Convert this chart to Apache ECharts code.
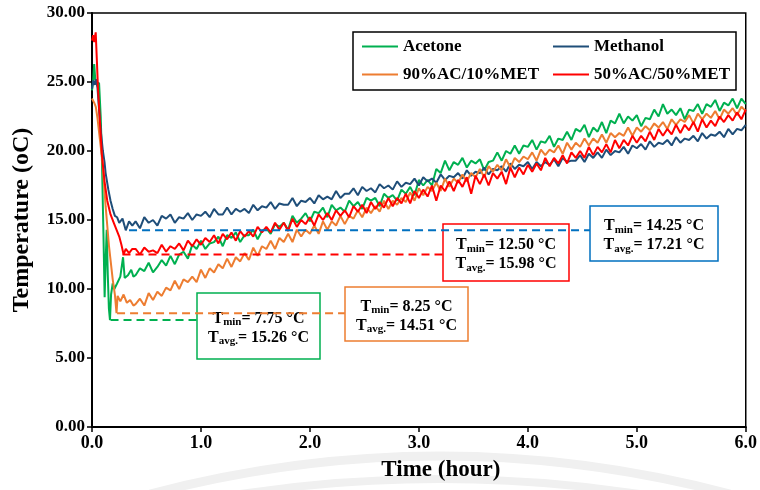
<!DOCTYPE html>
<html>
<head>
<meta charset="utf-8">
<script src="https://cdn.jsdelivr.net/npm/echarts@6/dist/echarts.min.js"></script>
<style>
  html, body { margin: 0; padding: 0; background: #fff; }
  #chart { width: 760px; height: 490px; }
</style>
</head>
<body>
<div id="chart"></div>
<script>
// ---- Series names ----
const seriesNames = ['Acetone', 'Methanol', '90%AC/10%MET', '50%AC/50%MET'];

// ---- Start-up transient, logged as [time (h), temperature (°C)] ----
const acetoneStart = [[0,24.4],[0.01,25.0],[0.02,26.3],[0.03,25.2],[0.045,25.0],[0.065,24.9],[0.08,22.5],[0.09,19.8],[0.105,14.0],[0.116,9.4],[0.125,12.0],[0.135,14.3],[0.145,11.0],[0.155,8.6],[0.165,7.75],[0.175,9.6],[0.19,10.4],[0.205,10.0],[0.23,10.4],[0.26,10.9],[0.285,12.3],[0.30,10.8],[0.33,11.0],[0.36,11.4],[0.38,10.9]];
const methanolStart = [[0,24.5],[0.01,25.1],[0.025,24.8],[0.035,25.2],[0.05,24.6],[0.065,23.0],[0.08,21.5],[0.10,20.0],[0.115,19.2],[0.125,18.4],[0.15,17.2],[0.17,16.4],[0.19,15.8],[0.21,15.3],[0.23,15.2],[0.25,14.8],[0.28,15.1],[0.31,14.25],[0.34,14.9],[0.37,14.6]];
const mix90Start = [[0,23.8],[0.02,23.5],[0.035,23.2],[0.05,22.4],[0.07,21.0],[0.095,19.3],[0.125,16.0],[0.156,13.1],[0.19,10.7],[0.21,9.6],[0.225,8.25],[0.235,9.5],[0.26,9.1],[0.29,9.6],[0.32,9.0],[0.35,9.2],[0.38,8.8]];
const mix50Start = [[0,28.0],[0.01,28.4],[0.02,27.9],[0.034,28.6],[0.045,26.5],[0.055,24.5],[0.07,22.5],[0.09,19.8],[0.115,17.8],[0.14,16.4],[0.17,15.4],[0.20,14.8],[0.23,14.2],[0.25,13.8],[0.27,13.2],[0.29,12.5],[0.31,12.9],[0.34,12.6],[0.37,12.9]];

// ---- Steady logging: one reading every 0.04 h from 0.40 h to 6.00 h ----
const logStart = 0.40;
const logStep = 0.04;

const acetone = [
  11.0,11.5,11.3,11.9,11.2,11.6,12.1,11.7,12.4,11.8,12.5,12.7,12.2,13.2,12.9,
  13.5,12.9,13.3,13.4,13.8,13.1,13.9,13.7,14.1,13.4,13.9,13.9,14.3,13.6,14.2,
  14.4,14.0,14.7,14.5,14.8,14.3,15.3,14.8,15.1,15.5,14.9,15.6,15.5,15.9,15.2,
  16.1,15.7,15.9,15.6,16.4,16.0,16.3,15.8,16.6,16.4,16.6,16.0,16.9,16.6,16.8,
  16.4,17.2,16.9,17.4,16.8,17.9,17.5,17.9,17.5,18.7,18.4,19.3,18.6,19.2,19.0,
  19.5,18.8,19.3,19.1,19.4,18.6,19.2,19.3,19.9,19.3,20.0,19.8,20.4,19.8,20.4,
  20.3,20.8,20.1,20.7,20.6,21.1,20.3,20.9,20.8,21.4,20.8,21.6,21.4,21.9,21.0,
  21.7,21.4,22.1,21.3,22.2,22.0,22.7,22.0,22.5,22.2,22.6,21.8,22.4,22.3,23.0,
  22.5,23.4,22.7,23.0,22.6,23.1,22.3,23.0,22.9,23.4,22.7,23.4,23.2,23.7,22.9,
  23.5,23.3,23.8,23.1,23.8,23.4
];
const methanol = [
  14.9,14.4,15.2,14.8,15.0,14.6,15.3,15.1,15.4,14.8,15.2,15.1,15.5,15.0,15.4,
  15.3,15.6,15.2,15.8,15.4,15.4,15.9,15.4,15.8,15.6,15.8,15.5,16.1,15.7,16.0,
  15.9,16.3,15.8,16.2,16.1,16.1,16.6,16.0,16.4,16.3,16.6,16.2,16.8,16.5,16.7,
  16.5,17.1,16.6,16.9,16.9,17.3,16.8,17.4,17.1,17.3,17.0,17.6,17.3,17.5,17.2,
  17.8,17.4,17.7,17.6,18.0,17.5,18.1,17.8,18.0,17.7,18.3,17.9,18.2,18.1,18.4,
  18.0,18.6,18.2,18.5,18.4,18.8,18.3,18.7,18.6,18.9,18.5,19.1,18.7,19.0,18.9,
  19.2,18.7,19.2,18.9,19.2,19.0,19.4,18.9,19.5,19.2,19.3,19.3,19.7,19.2,19.8,
  19.5,19.9,19.5,20.1,19.7,20.0,19.9,20.3,19.8,20.4,20.2,20.5,20.1,20.7,20.3,
  20.6,20.5,20.8,20.4,21.0,20.6,20.9,20.8,21.1,20.7,21.3,20.9,21.2,21.1,21.4,
  21.0,21.6,21.2,21.6,21.5,21.9
];
const mix90 = [
  8.9,9.3,8.8,9.7,9.2,9.8,9.5,10.1,9.9,10.6,10.0,10.7,10.5,10.9,10.5,
  11.4,10.8,11.5,11.2,11.8,11.5,12.2,11.6,12.3,12.0,12.6,12.1,13.0,12.4,13.1,
  12.9,13.5,12.9,13.7,13.4,14.0,13.4,14.3,13.8,14.3,14.0,14.6,14.0,14.9,14.3,
  14.9,14.6,15.3,14.7,15.3,15.1,15.7,15.2,15.9,15.5,16.0,15.6,16.4,15.8,16.4,
  16.1,16.6,16.3,17.0,16.4,17.3,16.8,17.4,17.1,17.7,17.1,18.0,17.4,18.0,17.7,
  18.3,17.8,18.4,18.1,18.7,18.1,18.9,18.5,19.0,18.6,19.4,18.8,19.5,19.2,19.6,
  19.4,19.9,19.3,20.1,19.7,20.1,19.9,20.4,19.8,20.6,20.1,20.6,20.3,20.9,20.4,
  20.9,20.6,21.2,20.6,21.3,21.0,21.3,21.1,21.7,21.1,21.7,21.4,21.8,21.5,22.0,
  21.7,22.1,21.6,22.3,21.9,22.3,22.1,22.6,22.0,22.7,22.3,22.7,22.4,22.9,22.3,
  23.0,22.7,23.1,22.6,23.2,22.9
];
const mix50 = [
  12.9,12.5,13.0,12.7,12.8,12.6,13.2,12.7,13.1,12.9,13.3,12.8,13.5,13.1,13.6,
  13.2,13.7,13.4,13.9,13.3,14.0,13.6,14.1,13.5,14.2,13.8,14.2,13.8,14.5,14.1,
  14.5,14.1,14.8,14.3,14.8,14.2,15.1,14.5,15.0,14.7,15.2,14.6,15.4,15.0,15.5,
  15.0,15.7,15.3,15.7,15.2,16.0,15.6,16.1,15.5,16.3,15.8,16.3,15.9,16.6,16.0,
  16.6,16.2,16.9,16.2,17.1,16.6,17.2,16.7,17.5,16.4,17.5,17.1,17.8,17.1,17.9,
  17.4,18.1,16.9,18.2,17.6,18.3,17.5,18.4,18.0,18.5,17.6,18.8,18.1,18.8,18.3,
  19.0,18.5,19.1,18.6,19.5,18.9,19.5,19.1,19.7,19.1,19.9,19.5,20.0,19.5,20.3,
  19.7,20.3,19.9,20.5,19.9,20.8,20.2,20.8,20.4,21.1,20.6,21.1,20.7,21.4,20.8,
  21.6,21.1,21.6,21.2,21.9,21.3,21.9,21.5,22.1,21.4,22.3,21.7,22.2,21.8,22.5,
  22.1,22.6,22.2,22.8,22.3,23.0
];

// ---- Minimum / average temperatures and their guide lines ----
const tminValues = [7.75, 14.25, 8.25, 12.50];
const tavgValues = [15.26, 17.21, 14.51, 15.98];
const guideStart = [0.17, 0.34, 0.23, 0.28];   // h
const guideEnd   = [0.96, 4.57, 2.32, 3.22];   // h

// ---- Axis ticks ----
const xTicks = { min: 0, max: 6, step: 1 };
const yTicks = { min: 0, max: 30, step: 5 };

// ---- Styling ----
const FONT = '"Liberation Serif", "Times New Roman", serif';
const lineColors  = ['#00B050', '#1F4E79', '#ED7D31', '#FF0000'];
const guideColors = ['#00B050', '#0070C0', '#ED7D31', '#FF0000'];
// label box geometry relative to the guide line end: vertical offset, width, height
const boxLayout = [
  { dy: -27,   w: 123, h: 66 },
  { dy: -24.5, w: 128, h: 55 },
  { dy: -26,   w: 123, h: 54 },
  { dy: -30.5, w: 126, h: 57 }
];

function buildSeriesData(start, values) {
  const logged = values.map((v, i) => [+(logStart + i * logStep).toFixed(2), v]);
  return start.concat(logged);
}

const seriesData = [
  buildSeriesData(acetoneStart, acetone),
  buildSeriesData(methanolStart, methanol),
  buildSeriesData(mix90Start, mix90),
  buildSeriesData(mix50Start, mix50)
];

const chart = echarts.init(document.getElementById('chart'), null, { renderer: 'canvas' });

const boldText = { fontFamily: FONT, fontWeight: 'bold', color: '#000' };

const lineSeries = seriesNames.map((name, i) => ({
  name,
  type: 'line',
  data: seriesData[i],
  symbol: 'none',
  showSymbol: false,
  lineStyle: { color: lineColors[i], width: 2 },
  itemStyle: { color: lineColors[i] },
  z: 3,
  silent: true
}));

const guideSeries = tminValues.map((v, i) => ({
  name: 'guide-' + i,
  type: 'line',
  data: [[guideStart[i], v], [guideEnd[i], v]],
  symbol: 'none',
  lineStyle: { color: guideColors[i], width: 2, type: [8, 5] },
  z: 4,
  silent: true
}));

// two legend columns inside one framed box
function legendColumn(names, left) {
  return {
    data: names,
    orient: 'vertical',
    left, top: 38,
    padding: 0,
    itemWidth: 36, itemHeight: 2, itemGap: 11,
    icon: 'rect',
    selectedMode: false,
    textStyle: Object.assign({ fontSize: 17 }, boldText),
    z: 12
  };
}

chart.setOption({
  animation: false,
  backgroundColor: '#fff',
  grid: {
    left: 92, right: 14, top: 13, bottom: 63,
    show: true, borderColor: '#000', borderWidth: 1.5, backgroundColor: 'transparent'
  },
  legend: [
    legendColumn([seriesNames[0], seriesNames[2]], 362),
    legendColumn([seriesNames[1], seriesNames[3]], 553)
  ],
  xAxis: {
    type: 'value',
    min: xTicks.min, max: xTicks.max, interval: xTicks.step,
    axisLine: { show: true, onZero: false, lineStyle: { color: '#000', width: 2 } },
    axisTick: { show: true, length: 5, lineStyle: { color: '#000', width: 1.5 } },
    splitLine: { show: false },
    axisLabel: Object.assign({ fontSize: 18, margin: 7, formatter: v => v.toFixed(1) }, boldText),
    name: 'Time (hour)',
    nameLocation: 'middle',
    nameGap: 32,
    nameTextStyle: Object.assign({ fontSize: 23, padding: [0, 0, 0, 44] }, boldText)
  },
  yAxis: {
    type: 'value',
    min: yTicks.min, max: yTicks.max, interval: yTicks.step,
    axisLine: { show: true, lineStyle: { color: '#000', width: 2 } },
    axisTick: { show: true, length: 5, lineStyle: { color: '#000', width: 1.5 } },
    splitLine: { show: false },
    axisLabel: Object.assign({ fontSize: 17, margin: 7, formatter: v => v.toFixed(2) }, boldText),
    name: 'Temperature (oC)',
    nameLocation: 'middle',
    nameGap: 58,
    nameTextStyle: Object.assign({ fontSize: 24 }, boldText)
  },
  series: lineSeries.concat(guideSeries)
});

// ---- Tmin / Tavg label boxes, anchored at the end of each guide line ----
const rich = {
  T: { fontFamily: FONT, fontWeight: 'bold', fontSize: 16, fill: '#000', color: '#000', lineHeight: 19 },
  s: { fontFamily: FONT, fontWeight: 'bold', fontSize: 11, fill: '#000', color: '#000', verticalAlign: 'bottom' },
  v: { fontFamily: FONT, fontWeight: 'bold', fontSize: 16, fill: '#000', color: '#000', lineHeight: 19 }
};

const boxes = tminValues.map((tmin, i) => {
  const p = chart.convertToPixel({ xAxisIndex: 0, yAxisIndex: 0 }, [guideEnd[i], tmin]);
  const L = boxLayout[i];
  const text =
    '{T|T}{s|min}{v|= ' + tmin.toFixed(2) + ' °C}\n' +
    '{T|T}{s|avg.}{v|= ' + tavgValues[i].toFixed(2) + ' °C}';
  return {
    type: 'group',
    x: Math.round(p[0]),
    y: Math.round(p[1] + L.dy),
    z: 10,
    children: [
      { type: 'rect', shape: { x: 0, y: 0, width: L.w, height: L.h },
        style: { fill: '#fff', stroke: guideColors[i], lineWidth: 1.5 } },
      { type: 'text', x: L.w / 2, y: L.h / 2 + 2,
        style: { text, rich, align: 'center', verticalAlign: 'middle', fill: '#000' } }
    ]
  };
});

// legend frame
const legendFrame = {
  type: 'rect', z: 2, silent: true,
  shape: { x: 353, y: 32, width: 383, height: 58 },
  style: { fill: '#fff', stroke: '#000', lineWidth: 1.5 }
};

// faint circular watermark below the time axis
const watermark = [
  { type: 'bezierCurve', z: -5, silent: true,
    shape: { x1: 150, y1: 494, x2: 730, y2: 494, cpx1: 440, cpy1: 418 },
    style: { stroke: '#f0f0f0', lineWidth: 9, fill: null } },
  { type: 'bezierCurve', z: -5, silent: true,
    shape: { x1: 240, y1: 494, x2: 640, y2: 494, cpx1: 440, cpy1: 464 },
    style: { stroke: '#f0f0f0', lineWidth: 8, fill: null } }
];

chart.setOption({ graphic: watermark.concat([legendFrame], boxes) });
</script>
</body>
</html>
